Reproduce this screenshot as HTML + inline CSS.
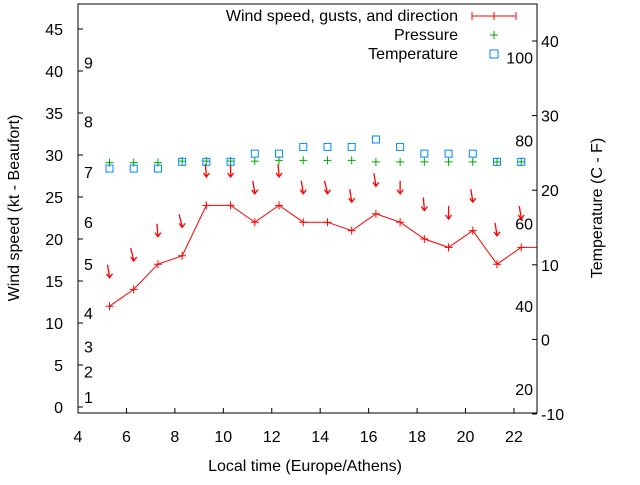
<!DOCTYPE html>
<html><head><meta charset="utf-8"><style>
body{margin:0;background:#fff}
svg{font-family:"Liberation Sans",sans-serif;font-size:16px}
</style></head><body>
<svg id="chart" width="640" height="480" xmlns="http://www.w3.org/2000/svg">
<rect x="0" y="0" width="640" height="480" fill="#fff"/>
<g id="grid"></g>
<g id="marks"></g>
<rect x="78" y="4" width="459" height="409" fill="none" stroke="#000" stroke-width="1"/>
<text x="305" y="471" text-anchor="middle">Local time (Europe/Athens)</text>
<text transform="translate(19,208) rotate(-90)" text-anchor="middle">Wind speed (kt - Beaufort)</text>
<text transform="translate(602,208) rotate(-90)" text-anchor="middle">Temperature (C - F)</text>
<g>
<text x="458" y="21" text-anchor="end">Wind speed, gusts, and direction</text>
<line x1="472" y1="16" x2="516" y2="16" stroke="red"/><line x1="494" y1="12" x2="494" y2="20" stroke="red"/><line x1="472" y1="12" x2="472" y2="20" stroke="red"/><line x1="516" y1="12" x2="516" y2="20" stroke="red"/>
<text x="458" y="40" text-anchor="end">Pressure</text>
<path d="M490 35h8M494 31v8" stroke="#0a0"/>
<text x="458" y="59" text-anchor="end">Temperature</text>
<rect x="490" y="50" width="8" height="8" fill="none" stroke="#08f"/>
</g>
</svg>
<script>
const hours=[5.3,6.3,7.3,8.3,9.3,10.3,11.3,12.3,13.3,14.3,15.3,16.3,17.3,18.3,19.3,20.3,21.3,22.3];
const wind=[12,14,17,18,24,24,22,24,22,22,21,23,22,20,19,21,17,19];
const gust=[15.5,17.5,20.4,21.5,27.5,27.5,25.5,27.5,25.5,25.5,24.5,26.4,25.5,23.5,22.5,24.5,20.5,22.5];
const dirTilt=[-2,-3,-1,-3,-1,0,-2,-1,-2,-3,-2,-2,0,-1,0,-2,-2,-2];
const pressure=[23.7,23.7,23.7,23.9,23.9,23.9,23.9,24.0,24.0,24.0,24.0,23.8,23.8,23.8,23.8,23.8,23.8,23.8];
const temp=[22.9,22.9,22.9,23.8,23.8,23.8,24.9,24.9,25.8,25.8,25.8,26.8,25.8,24.9,24.9,24.9,23.8,23.8];
const xTicks=[4,6,8,10,12,14,16,18,20,22];
const yTicks=[0,5,10,15,20,25,30,35,40,45];
const y2Ticks=[-10,0,10,20,30,40];
const bft=[[1,1.2],[2,4.2],[3,7.2],[4,11.2],[5,17],[6,22],[7,28],[8,34],[9,41]];
const fahr=[20,40,60,80,100];
const X=v=>78+(v-4)*24.22, Y=v=>407-v*8.4, Y2=t=>41+(40-t)*7.46;
const NS='http://www.w3.org/2000/svg';
const grid=document.getElementById('grid'), marks=document.getElementById('marks');
function mk(tag,at,p){const e=document.createElementNS(NS,tag);for(const k in at)e.setAttribute(k,at[k]);p.appendChild(e);return e;}
xTicks.forEach(v=>{mk('line',{x1:X(v),y1:413,x2:X(v),y2:408,stroke:'#000'},grid);
const t=mk('text',{x:X(v),y:442,'text-anchor':'middle'},grid);t.textContent=v;

});
yTicks.forEach(v=>{mk('line',{x1:78,y1:Y(v),x2:83,y2:Y(v),stroke:'#000'},grid);
const t=mk('text',{x:63,y:Y(v)+6,'text-anchor':'end'},grid);t.textContent=v;

});
y2Ticks.forEach(v=>{mk('line',{x1:532,y1:Y2(v),x2:537,y2:Y2(v),stroke:'#000'},grid);
const t=mk('text',{x:541,y:Y2(v)+6},grid);t.textContent=v;

});
bft.forEach(b=>{const t=mk('text',{x:84,y:Y(b[1])+6},grid);t.textContent=b[0];

});
fahr.forEach(f=>{const t=mk('text',{x:533,y:Y2((f-32)*5/9)+6,'text-anchor':'end'},grid);t.textContent=f;

});
let d='';hours.forEach((h,i)=>{d+=(i?'L':'M')+X(h)+' '+Y(wind[i]);});d+='L537 '+Y(wind[wind.length-1]);
const wl=mk('path',{d:d,fill:'none',stroke:'red'},marks);


hours.forEach((h,i)=>{const x=X(h),y=Y(wind[i]);
const p=mk('path',{d:`M${x-4} ${y}h8M${x} ${y-4}v8`,stroke:'red'},marks);


const gx=X(h),gy=Y(gust[i]);
const a=mk('path',{d:`M${gx+dirTilt[i]} ${gy-12}L${gx} ${gy}M${gx-3} ${gy-3}L${gx} ${gy+1}L${gx+3} ${gy-3}`,stroke:'red',fill:'none','stroke-width':1.3},marks);


const px=X(h),py=Y2(pressure[i]);
const g=mk('path',{d:`M${px-4} ${py}h8M${px} ${py-4}v8`,stroke:'#0a0'},marks);


const s=mk('rect',{x:X(h)-3.5,y:Y2(temp[i])-3.5,width:7,height:7,fill:'none',stroke:'#08f'},marks);

});
</script>
</body></html>
